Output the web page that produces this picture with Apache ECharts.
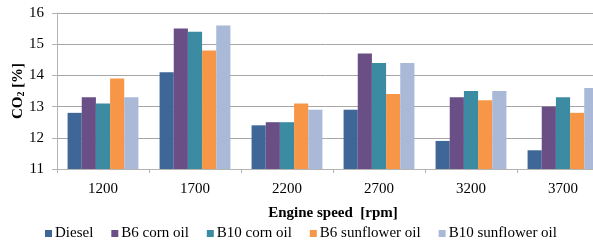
<!DOCTYPE html>
<html>
<head>
<meta charset="utf-8">
<script src="https://cdn.jsdelivr.net/npm/echarts@6/dist/echarts.min.js"></script>
<style>
html, body { margin: 0; padding: 0; background: #fff; }
#main { width: 593px; height: 244px; }
</style>
</head>
<body>
<div id="main"></div>
<script>
var speeds = ['1200', '1700', '2200', '2700', '3200', '3700'];
var diesel = [12.8, 14.1, 12.4, 12.9, 11.9, 11.6];
var b6Corn = [13.3, 15.5, 12.5, 14.7, 13.3, 13.0];
var b10Corn = [13.1, 15.4, 12.5, 14.4, 13.5, 13.3];
var b6Sun = [13.9, 14.8, 13.1, 13.4, 13.2, 12.8];
var b10Sun = [13.3, 15.6, 12.9, 14.4, 13.5, 13.6];

var font = '"Liberation Serif", "Times New Roman", serif';

function bar(name, data, color) {
	return {
		name: name,
		type: 'bar',
		data: data,
		barGap: 0,
		barCategoryGap: '23%',
		itemStyle: { color: color },
		emphasis: { disabled: true }
	};
}

var myChart = echarts.init(document.getElementById('main'));
var option = {
	animation: false,
	textStyle: { fontFamily: font, color: '#000' },
	grid: { left: 57, right: -16, top: 13, bottom: 75, outerBoundsMode: 'none', containLabel: false },
	legend: {
		top: 221,
		left: 40,
		itemWidth: 7,
		itemHeight: 7,
		itemGap: 18,
		icon: 'rect',
		textStyle: { fontFamily: font, fontSize: 15, color: '#000', padding: [0, 0, 0, -2] },
		data: ['Diesel', 'B6 corn oil', 'B10 corn oil', 'B6 sunflower oil', 'B10 sunflower oil']
	},
	xAxis: {
		type: 'category',
		data: speeds,
		name: 'Engine speed  [rpm]',
		nameLocation: 'middle',
		nameGap: 37,
		nameMoveOverlap: false,
		nameTextStyle: { fontFamily: font, fontSize: 15, fontWeight: 'bold', color: '#000' },
		axisLine: { lineStyle: { color: '#b4b4b4', width: 1 } },
		axisTick: { show: true, length: 4, lineStyle: { color: '#b4b4b4' } },
		axisLabel: { fontFamily: font, fontSize: 15, color: '#000', margin: 13 }
	},
	yAxis: {
		type: 'value',
		min: 11,
		max: 16,
		interval: 1,
		name: '{a|CO}{s|2}{a| [%]}',
		nameLocation: 'middle',
		nameGap: 31,
		nameMoveOverlap: false,
		nameRotate: 90,
		nameTextStyle: {
			rich: {
				a: { fontFamily: font, fontSize: 15, fontWeight: 'bold', color: '#000' },
				s: { fontFamily: font, fontSize: 10, fontWeight: 'bold', color: '#000', padding: [6, 0, 0, 0] }
			}
		},
		axisLine: { show: true, lineStyle: { color: '#b4b4b4' } },
		axisTick: { show: true, length: 5, inside: false, lineStyle: { color: '#b4b4b4' } },
		axisLabel: { fontFamily: font, fontSize: 15, color: '#000', margin: 13 },
		splitLine: { lineStyle: { color: '#a6a6a6', width: 1 } }
	},
	series: [
		bar('Diesel', diesel, '#3e6697'),
		bar('B6 corn oil', b6Corn, '#6a4f86'),
		bar('B10 corn oil', b10Corn, '#3b8ba2'),
		bar('B6 sunflower oil', b6Sun, '#f79646'),
		bar('B10 sunflower oil', b10Sun, '#aab9d8')
	]
};
myChart.setOption(option);
</script>
</body>
</html>
